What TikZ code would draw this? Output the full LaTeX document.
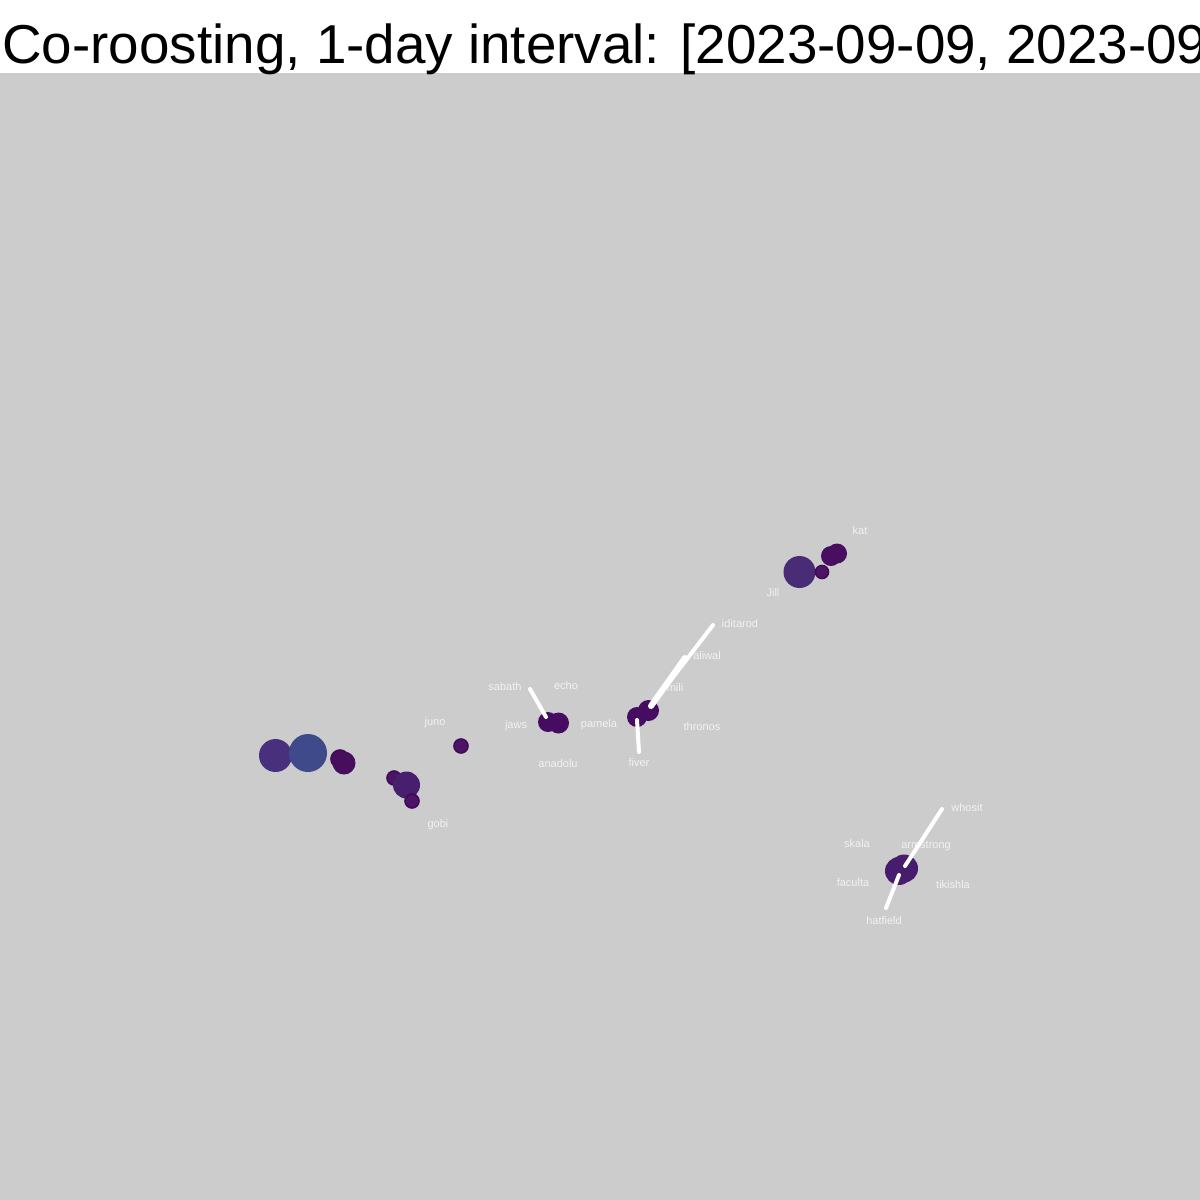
\documentclass[tikz,border=0pt]{standalone}
\usepackage{fontspec}
\setmainfont{Liberation Sans}
\begin{document}
\begin{tikzpicture}[x=0.5pt,y=-0.5pt,
  bubble/.style={circle,inner sep=0pt,draw=none},
  rimmed/.style={circle,inner sep=0pt,draw=rimcol,line width=0.8pt},
  lbl/.style={text=labcol,font=\fontsize{5.5pt}{6pt}\selectfont,inner sep=0pt},
  track/.style={draw=white,line width=2pt,line cap=round},
  ]
\definecolor{bg}{RGB}{204,204,204}
\definecolor{labcol}{RGB}{242,242,242}
\definecolor{cA}{RGB}{72,48,125}
\definecolor{cB}{RGB}{62,74,137}
\definecolor{cC}{RGB}{70,14,92}
\definecolor{cD}{RGB}{72,30,110}
\definecolor{cS}{RGB}{76,20,102}
\definecolor{rimcol}{RGB}{66,10,86}
\definecolor{cJ}{RGB}{70,12,98}
\definecolor{cJill}{RGB}{72,44,118}
\definecolor{cK}{RGB}{72,14,96}
\definecolor{cArm}{RGB}{72,28,108}
\useasboundingbox (0,0) rectangle (1200,1200);
\clip (0,0) rectangle (1200,1200);
\fill[white] (0,0) rectangle (1200,73);
\fill[bg] (0,73) rectangle (1200,1200);
\node[anchor=base west,inner sep=0pt,font=\fontsize{27.4pt}{30pt}\selectfont] (title) at (2,63) {Co-roosting, 1-day interval: [2023-09-09, 2023-09};
% labels
\node[lbl] (lkat) at (860,531) {kat};
\node[lbl] (ljill) at (773,593) {Jill};
\node[lbl] (lidit) at (740,624) {iditarod};
\node[lbl] (lali) at (707,656) {aliwal};
\node[lbl] (lmili) at (675,688) {mili};
\node[lbl] (lthr) at (702,727) {thronos};
\node[lbl] (lpam) at (599,725) {pamela};
\node[lbl] (lfiv) at (639,763) {fiver};
\node[lbl] (lecho) at (566,686) {echo};
\node[lbl] (lsab) at (505,687) {sabath};
\node[lbl] (ljaws) at (516,726) {jaws};
\node[lbl] (lana) at (558,764) {anadolu};
\node[lbl] (ljuno) at (435,723) {juno};
\node[lbl] (lgobi) at (438,825) {gobi};
\node[lbl] (lwho) at (967,808) {whosit};
\node[lbl] (lska) at (857,844) {skala};
\node[lbl] (larm) at (926,846) {armstrong};
\node[lbl] (lfac) at (853,883) {faculta};
\node[lbl] (ltik) at (953,885) {tikishla};
\node[lbl] (lhat) at (884,921) {hatfield};
% bubbles, left group
\node[bubble,fill=cA,minimum size=33*0.5pt] (nA) at (275.5,755.5) {};
\node[bubble,fill=cB,minimum size=38*0.5pt] (nB) at (308,753) {};
\node[rimmed,fill=cC,minimum size=18*0.5pt] (nC0) at (340,759) {};
\node[bubble,fill=cC,minimum size=23*0.5pt] (nC) at (344,763) {};
\node[rimmed,fill=cS,minimum size=14*0.5pt] (nE) at (394,778) {};
\node[bubble,fill=cD,minimum size=27*0.5pt] (nD) at (406.5,785) {};
\node[rimmed,fill=cS,minimum size=14*0.5pt] (nF) at (412,801) {};
\node[rimmed,fill=cS,minimum size=14*0.5pt] (nG) at (461,746) {};
% jaws cluster
\node[bubble,fill=cJ,minimum size=20*0.5pt] (nJ1) at (548,722) {};
\node[bubble,fill=cJ,minimum size=21*0.5pt] (nJ2) at (558.5,723) {};
% pamela cluster
\node[bubble,fill=cJ,minimum size=20*0.5pt] (nP1) at (637,717) {};
\node[bubble,fill=cJ,minimum size=21*0.5pt] (nP2) at (648.5,710.5) {};
% Jill cluster
\node[bubble,fill=cJill,minimum size=32*0.5pt] (nJill) at (799.5,572) {};
\node[rimmed,fill=cS,minimum size=13*0.5pt] (nJs) at (822,572) {};
\node[bubble,fill=cK,minimum size=20*0.5pt] (nK1) at (831,556) {};
\node[bubble,fill=cK,minimum size=20*0.5pt] (nK2) at (837,553.5) {};
% armstrong cluster
\node[bubble,fill=cArm,minimum size=28*0.5pt] (nAr1) at (899,871) {};
\node[bubble,fill=cArm,minimum size=28*0.5pt] (nAr2) at (904,868.5) {};
% track end points
\coordinate (sabEnd) at (530,689);
\coordinate (sabStart) at (546,717);
\coordinate (fivStart) at (637,720);
\coordinate (fivEnd) at (639,752);
\coordinate (pStart) at (651,706);
\coordinate (iditEnd) at (713,625);
\coordinate (aliEnd) at (685,658);
\coordinate (whoStart) at (905,866);
\coordinate (whoEnd) at (942,809);
\coordinate (hatStart) at (899,875);
\coordinate (hatEnd) at (886,908);
% tracks
\draw[track] (sabStart) -- (sabEnd);
\draw[track] (fivStart) -- (fivEnd);
\draw[track] (pStart) -- (iditEnd);
\draw[track,line width=3pt] (pStart) -- (aliEnd);
\draw[track] (whoStart) -- (whoEnd);
\draw[track] (hatStart) -- (hatEnd);
\end{tikzpicture}
\end{document}
